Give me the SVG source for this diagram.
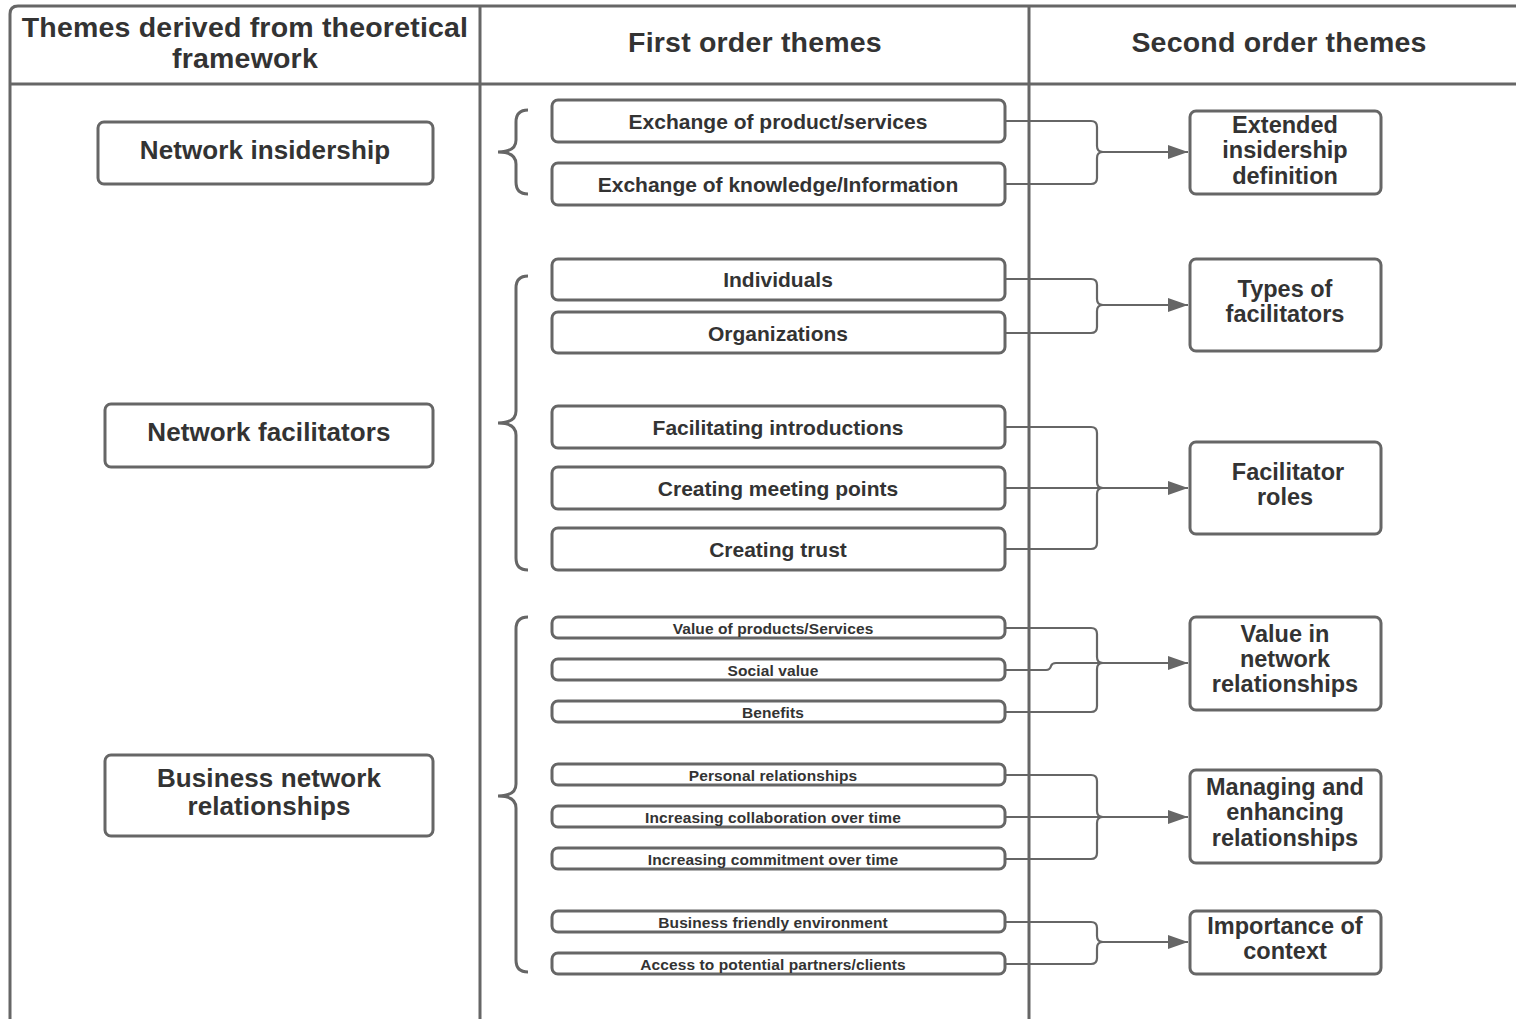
<svg xmlns="http://www.w3.org/2000/svg" width="1516" height="1019" viewBox="0 0 1516 1019">
<defs>
<style>
.ln{fill:none;stroke:#666;stroke-width:3}
.bx{fill:#fff;stroke:#666;stroke-width:3}
.t{font-family:"Liberation Sans",Arial,sans-serif;font-weight:bold;fill:#333;text-anchor:middle;dominant-baseline:central}
.h{font-size:28.5px;letter-spacing:0.2px}
.l{font-size:26px;letter-spacing:0.1px}
.m{font-size:21px}
.s{font-size:15.5px;letter-spacing:0.1px}
.r{font-size:23.5px}
.cn{fill:none;stroke:#666;stroke-width:2.2}
</style>
<marker id="ah" markerUnits="userSpaceOnUse" viewBox="0 0 20 14" refX="20" refY="7" markerWidth="20" markerHeight="14" orient="auto">
<path d="M0 0 L20 7 L0 14 z" fill="#666"/>
</marker>
</defs>
<rect width="1516" height="1019" fill="#fff"/>
<g id="table">
<path class="ln" d="M10 1019 V14 Q10 6 18 6 H1516"/>
<path class="ln" d="M10 84 H1516"/>
<path class="ln" d="M480 6 V1019"/>
<path class="ln" d="M1029 6 V1019"/>
<text class="t h" x="245" y="27">Themes derived from theoretical</text>
<text class="t h" x="245" y="58">framework</text>
<text class="t h" x="755" y="42">First order themes</text>
<text class="t h" x="1279" y="42">Second order themes</text>
</g>
<g id="braces">
<path class="ln" d="M528 110 Q516 110 516 122 V140 Q516 152 498 152 Q516 152 516 164 V182 Q516 194 528 194"/>
<path class="ln" d="M528 276 Q516 276 516 288 V411 Q516 423 498 423 Q516 423 516 435 V558 Q516 570 528 570"/>
<path class="ln" d="M528 617 Q516 617 516 629 V784 Q516 796 498 796 Q516 796 516 808 V960 Q516 972 528 972"/>
</g>
<g id="connectors">
<path class="cn" d="M1005 121 H1091 Q1097 121 1097 127 V146 Q1097 152 1103 152"/>
<path class="cn" d="M1005 184 H1091 Q1097 184 1097 178 V158 Q1097 152 1103 152"/>
<path class="cn" d="M1100 152 H1188" marker-end="url(#ah)"/>
<path class="cn" d="M1005 279 H1091 Q1097 279 1097 285 V299 Q1097 305 1103 305"/>
<path class="cn" d="M1005 333 H1091 Q1097 333 1097 327 V311 Q1097 305 1103 305"/>
<path class="cn" d="M1100 305 H1188" marker-end="url(#ah)"/>
<path class="cn" d="M1005 427 H1091 Q1097 427 1097 433 V482 Q1097 488 1103 488"/>
<path class="cn" d="M1005 549 H1091 Q1097 549 1097 543 V494 Q1097 488 1103 488"/>
<path class="cn" d="M1005 488 H1188" marker-end="url(#ah)"/>
<path class="cn" d="M1005 628 H1091 Q1097 628 1097 634 V657 Q1097 663 1103 663"/>
<path class="cn" d="M1005 712 H1091 Q1097 712 1097 706 V669 Q1097 663 1103 663"/>
<path class="cn" d="M1005 670 H1046 Q1050 670 1051 666 Q1052 663 1056 663 H1100"/>
<path class="cn" d="M1100 663 H1188" marker-end="url(#ah)"/>
<path class="cn" d="M1005 775 H1091 Q1097 775 1097 781 V811 Q1097 817 1103 817"/>
<path class="cn" d="M1005 859 H1091 Q1097 859 1097 853 V823 Q1097 817 1103 817"/>
<path class="cn" d="M1005 817 H1188" marker-end="url(#ah)"/>
<path class="cn" d="M1005 922 H1091 Q1097 922 1097 928 V936 Q1097 942 1103 942"/>
<path class="cn" d="M1005 964 H1091 Q1097 964 1097 958 V948 Q1097 942 1103 942"/>
<path class="cn" d="M1100 942 H1188" marker-end="url(#ah)"/>
</g>
<g id="n-network-insidership"><rect class="bx" x="98" y="122" width="335" height="62" rx="6"/><text class="t l" x="265" y="150">Network insidership</text></g>
<g id="n-network-facilitators"><rect class="bx" x="105" y="404" width="328" height="63" rx="6"/><text class="t l" x="269" y="432">Network facilitators</text></g>
<g id="n-business-network"><rect class="bx" x="105" y="755" width="328" height="81" rx="6"/><text class="t l" x="269" y="778">Business network</text><text class="t l" x="269" y="806">relationships</text></g>
<g id="f-exchange-product"><rect class="bx" x="552" y="100" width="453" height="42" rx="6"/><text class="t m" x="778" y="121">Exchange of product/services</text></g>
<g id="f-exchange-knowledge"><rect class="bx" x="552" y="163" width="453" height="42" rx="6"/><text class="t m" x="778" y="184">Exchange of knowledge/Information</text></g>
<g id="f-individuals"><rect class="bx" x="552" y="259" width="453" height="41" rx="6"/><text class="t m" x="778" y="279">Individuals</text></g>
<g id="f-organizations"><rect class="bx" x="552" y="312" width="453" height="41" rx="6"/><text class="t m" x="778" y="333">Organizations</text></g>
<g id="f-facilitating"><rect class="bx" x="552" y="406" width="453" height="42" rx="6"/><text class="t m" x="778" y="427">Facilitating introductions</text></g>
<g id="f-meeting"><rect class="bx" x="552" y="467" width="453" height="42" rx="6"/><text class="t m" x="778" y="488">Creating meeting points</text></g>
<g id="f-trust"><rect class="bx" x="552" y="528" width="453" height="42" rx="6"/><text class="t m" x="778" y="549">Creating trust</text></g>
<g id="f-value-products"><rect class="bx" x="552" y="617" width="453" height="21" rx="6"/><text class="t s" x="773" y="628">Value of products/Services</text></g>
<g id="f-social-value"><rect class="bx" x="552" y="659" width="453" height="21" rx="6"/><text class="t s" x="773" y="670">Social value</text></g>
<g id="f-benefits"><rect class="bx" x="552" y="701" width="453" height="21" rx="6"/><text class="t s" x="773" y="712">Benefits</text></g>
<g id="f-personal"><rect class="bx" x="552" y="764" width="453" height="21" rx="6"/><text class="t s" x="773" y="775">Personal relationships</text></g>
<g id="f-collaboration"><rect class="bx" x="552" y="806" width="453" height="21" rx="6"/><text class="t s" x="773" y="817">Increasing collaboration over time</text></g>
<g id="f-commitment"><rect class="bx" x="552" y="848" width="453" height="21" rx="6"/><text class="t s" x="773" y="859">Increasing commitment over time</text></g>
<g id="f-business-friendly"><rect class="bx" x="552" y="911" width="453" height="21" rx="6"/><text class="t s" x="773" y="922">Business friendly environment</text></g>
<g id="f-access"><rect class="bx" x="552" y="953" width="453" height="21" rx="6"/><text class="t s" x="773" y="964">Access to potential partners/clients</text></g>
<g id="s-extended"><rect class="bx" x="1190" y="111" width="191" height="83" rx="6"/><text class="t r" x="1285" y="125">Extended</text><text class="t r" x="1285" y="150">insidership</text><text class="t r" x="1285" y="176">definition</text></g>
<g id="s-types"><rect class="bx" x="1190" y="259" width="191" height="92" rx="6"/><text class="t r" x="1285" y="289">Types of</text><text class="t r" x="1285" y="314">facilitators</text></g>
<g id="s-roles"><rect class="bx" x="1190" y="442" width="191" height="92" rx="6"/><text class="t r" x="1288" y="472">Facilitator</text><text class="t r" x="1285" y="497">roles</text></g>
<g id="s-value"><rect class="bx" x="1190" y="617" width="191" height="93" rx="6"/><text class="t r" x="1285" y="634">Value in</text><text class="t r" x="1285" y="659">network</text><text class="t r" x="1285" y="684">relationships</text></g>
<g id="s-managing"><rect class="bx" x="1190" y="770" width="191" height="93" rx="6"/><text class="t r" x="1285" y="787">Managing and</text><text class="t r" x="1285" y="812">enhancing</text><text class="t r" x="1285" y="838">relationships</text></g>
<g id="s-context"><rect class="bx" x="1190" y="911" width="191" height="63" rx="6"/><text class="t r" x="1285" y="926">Importance of</text><text class="t r" x="1285" y="951">context</text></g>
</svg>
